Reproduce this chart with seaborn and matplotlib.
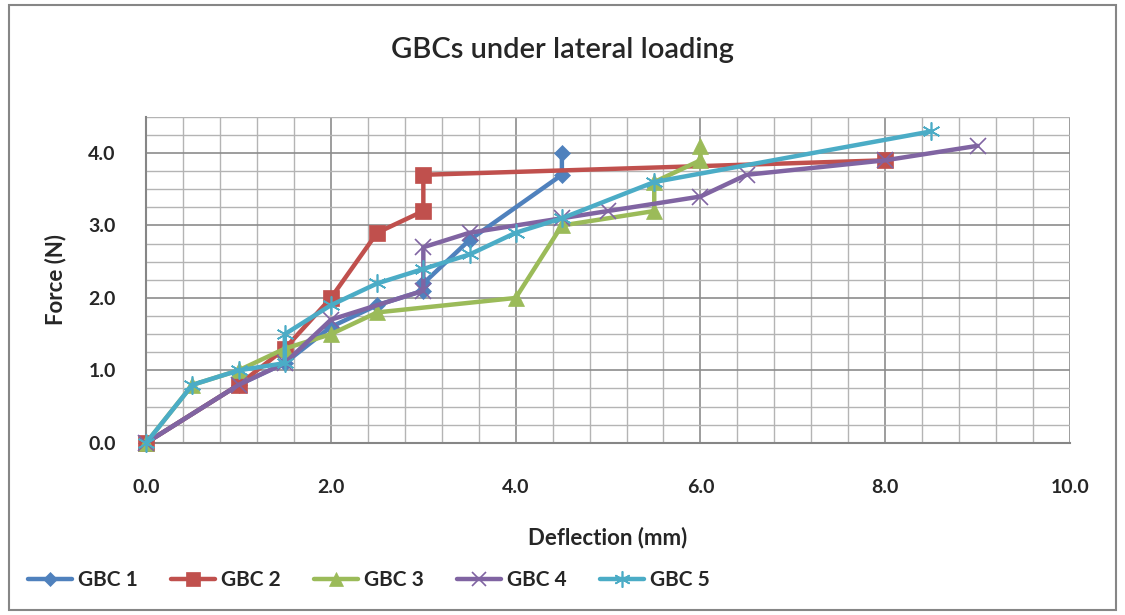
import matplotlib
matplotlib.use("Agg")
import matplotlib.pyplot as plt
import seaborn as sns
import pandas as pd
import numpy as np
from matplotlib.patches import Rectangle
from matplotlib.ticker import MultipleLocator

# data
gbc1_x = [0, 1, 1.5, 2, 2.5, 3, 3, 3.5, 4.5, 4.5]
gbc1_y = [0, 0.8, 1.1, 1.6, 1.9, 2.1, 2.2, 2.8, 3.7, 4.0]
gbc2_x = [0, 1, 1.5, 2, 2.5, 3, 3, 8]
gbc2_y = [0, 0.8, 1.3, 2.0, 2.9, 3.2, 3.7, 3.9]
gbc3_x = [0, 0.5, 1, 1.5, 2, 2.5, 4, 4.5, 5.5, 5.5, 6, 6]
gbc3_y = [0, 0.8, 1.0, 1.3, 1.5, 1.8, 2.0, 3.0, 3.2, 3.6, 3.9, 4.1]
gbc4_x = [0, 1, 1.5, 2, 3, 3, 3.5, 4.5, 5, 6, 6.5, 8, 9]
gbc4_y = [0, 0.8, 1.1, 1.7, 2.1, 2.7, 2.9, 3.1, 3.2, 3.4, 3.7, 3.9, 4.1]
gbc5_x = [0, 0.5, 1, 1.5, 1.5, 2, 2.5, 3, 3.5, 4, 4.5, 5.5, 8.5]
gbc5_y = [0, 0.8, 1.0, 1.1, 1.5, 1.9, 2.2, 2.4, 2.6, 2.9, 3.1, 3.6, 4.3]

names = ['GBC 1', 'GBC 2', 'GBC 3', 'GBC 4', 'GBC 5']
xs = [gbc1_x, gbc2_x, gbc3_x, gbc4_x, gbc5_x]
ys = [gbc1_y, gbc2_y, gbc3_y, gbc4_y, gbc5_y]
colors = ['#4F81BD', '#C0504D', '#9BBB59', '#8064A2', '#4BACC6']
markers = ['D', 's', '^', 'x', (6, 2, 0)]
msizes = [8, 11, 11, 11, 13]

sns.set_style('white')
plt.rcParams['font.family'] = ['Lato', 'DejaVu Sans']

fig = plt.figure(figsize=(11.25, 6.15), dpi=100)
ax = fig.add_axes([0.130, 0.280, 0.821, 0.530])

for name, x, y, c, m, s in zip(names, xs, ys, colors, markers, msizes):
    df = pd.DataFrame({'x': x, 'y': y})
    sns.lineplot(data=df, x='x', y='y', sort=False, estimator=None, ax=ax,
                 color=c, linewidth=3.2, marker=m, markersize=s,
                 markeredgecolor=c, markeredgewidth=1.2 if m in ['x', (6, 2, 0)] else 0.5,
                 label=name, clip_on=False, zorder=3)

ax.set_xlim(0, 10)
ax.set_ylim(0, 4.5)
ax.xaxis.set_minor_locator(MultipleLocator(0.4))
ax.yaxis.set_minor_locator(MultipleLocator(0.25))
ax.set_xticks(np.arange(0, 10.1, 2))
ax.set_xticklabels(['%.1f' % v for v in np.arange(0, 10.1, 2)])
ax.set_yticks(np.arange(0, 4.1, 1))
ax.set_yticklabels(['%.1f' % v for v in np.arange(0, 4.1, 1)])
ax.grid(True, which='major', color='#8c8c8c', linewidth=1.2)
ax.grid(True, which='minor', color='#b4b4b4', linewidth=1.0)
ax.tick_params(axis='both', which='both', length=0, labelsize=14)
ax.tick_params(axis='x', pad=26)
ax.tick_params(axis='y', pad=22)
for lab in ax.get_xticklabels() + ax.get_yticklabels():
    lab.set_fontweight('bold')
for sp in ['top', 'right']:
    ax.spines[sp].set_visible(False)
for sp in ['left', 'bottom']:
    ax.spines[sp].set_color('#868686')
    ax.spines[sp].set_linewidth(1.5)

ax.set_xlabel('Deflection (mm)', fontsize=16, fontweight='bold', labelpad=22)
ax.set_ylabel('Force (N)', fontsize=16, fontweight='bold', labelpad=16)
fig.text(0.5, 0.918, 'GBCs under lateral loading', ha='center', va='center',
         fontsize=21, fontweight='semibold')

handles, labels = ax.get_legend_handles_labels()
ax.legend(handles, labels, loc='center left', bbox_to_anchor=(0.008, 0.057),
          bbox_transform=fig.transFigure, ncol=5, frameon=False,
          prop={'weight': 'bold', 'size': 15}, handlelength=2.1,
          columnspacing=1.6, handletextpad=0.3, markerscale=0.9)

fig.patches.append(Rectangle((0.008, 0.008), 0.984, 0.984, transform=fig.transFigure,
                             fill=False, edgecolor='#868686', linewidth=1.5))

fig.savefig('out.png', dpi=100)
